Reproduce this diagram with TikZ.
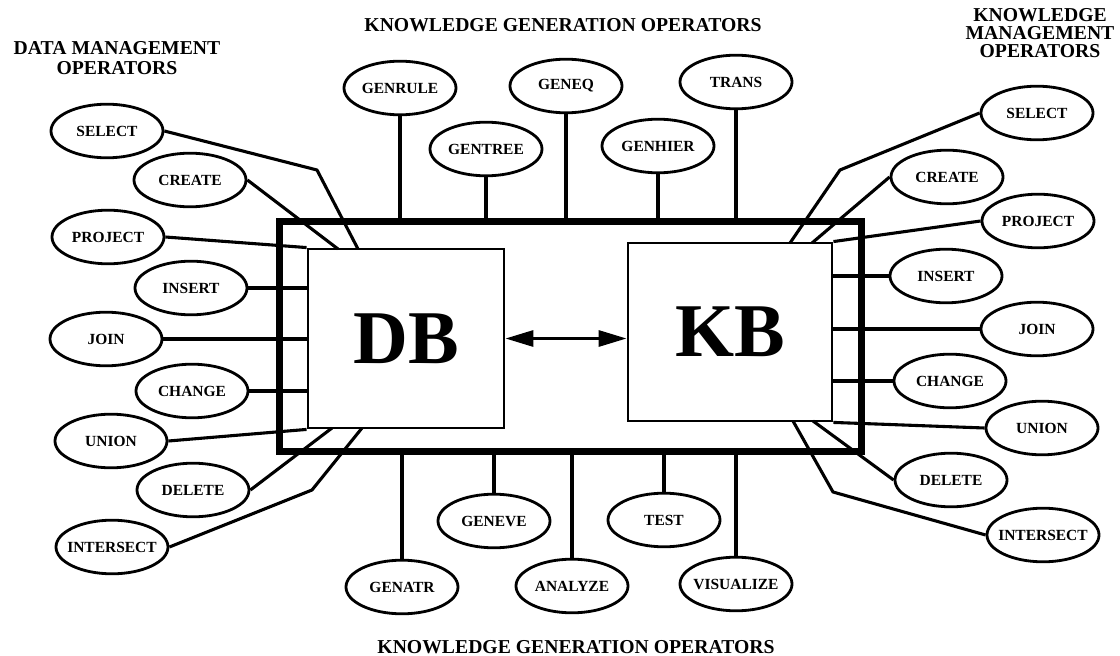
\documentclass[tikz,border=0pt]{standalone}
\usepackage{fontspec}
\setmainfont{Liberation Serif}
\usetikzlibrary{shapes.geometric,arrows.meta}

\tikzset{
  op/.style={ellipse,draw,line width=2pt,minimum width=2.8cm,minimum height=1.34cm,inner xsep=-5pt,inner ysep=0pt,font=\fontsize{11}{12}\selectfont\bfseries},
  base/.style={draw,line width=2pt,inner sep=0pt,font=\fontsize{54}{54}\selectfont\bfseries},
  wire/.style={line width=2.2pt,line join=round},
  heading/.style={align=center,font=\fontsize{14}{14}\selectfont\bfseries}
}

\begin{document}
\begin{tikzpicture}[x=0.025cm,y=-0.025cm]
                \useasboundingbox (0,0) rectangle (1120,656);

                \node[draw,line width=5pt,minimum width=14.525cm,minimum height=5.725cm] (frame) at (570.5,336.5) {};
                \node[base,minimum width=4.9cm,minimum height=4.475cm] (db) at (406,338.5) {DB};
                \node[base,minimum width=5.1cm,minimum height=4.45cm] (kb) at (730,332) {KB};
                \draw[line width=2.2pt,{Triangle[length=0.7cm,width=0.4cm]}-{Triangle[length=0.7cm,width=0.4cm]}] (db.east) -- (db.east -| kb.west);

                \node[heading] (dmtitle) at (117,58) {DATA MANAGEMENT\\OPERATORS};
                \node[heading,font=\fontsize{14}{12.8}\selectfont\bfseries] (kmtitle) at (1040,33) {KNOWLEDGE\\MANAGEMENT\\OPERATORS};
                \node[heading] (kgtop) at (563,25) {KNOWLEDGE GENERATION OPERATORS};
                \node[heading] (kgbot) at (576,647) {KNOWLEDGE GENERATION OPERATORS};

                \node[op] (dsel) at (107,131) {SELECT};
                \node[op] (dcre) at (190,180) {CREATE};
                \node[op] (dproj) at (108,237) {PROJECT};
                \node[op] (dins) at (191,288) {INSERT};
                \node[op] (djoin) at (106,339) {JOIN};
                \node[op] (dchg) at (192,391) {CHANGE};
                \node[op] (duni) at (111,441) {UNION};
                \node[op] (ddel) at (193,490) {DELETE};
                \node[op] (dint) at (112,547) {INTERSECT};

                \node[op] (ksel) at (1037,113) {SELECT};
                \node[op] (kcre) at (947,177) {CREATE};
                \node[op] (kproj) at (1038,221) {PROJECT};
                \node[op] (kins) at (946,276) {INSERT};
                \node[op] (kjoin) at (1037,329) {JOIN};
                \node[op] (kchg) at (950,381) {CHANGE};
                \node[op] (kuni) at (1042,428) {UNION};
                \node[op] (kdel) at (951,480) {DELETE};
                \node[op] (kint) at (1043,535) {INTERSECT};

                \node[op] (grule) at (400,88) {GENRULE};
                \node[op] (gtree) at (486,149) {GENTREE};
                \node[op] (geq) at (566,86) {GENEQ};
                \node[op] (ghier) at (658,146) {GENHIER};
                \node[op] (trans) at (736,82) {TRANS};

                \node[op] (gatr) at (402,587) {GENATR};
                \node[op] (geve) at (494,521) {GENEVE};
                \node[op] (anlz) at (572,586) {ANALYZE};
                \node[op] (test) at (664,520) {TEST};
                \node[op] (vis) at (736,584) {VISUALIZE};

                \coordinate (dselbend) at (317,170);
                \coordinate (dselend) at (358,249);
                \coordinate (dcreend) at (338,249);
                \coordinate (ddelend) at (332,428);
                \coordinate (dintbend) at (312,490);
                \coordinate (dintend) at (362,428);
                \coordinate (kselbend) at (840,170);
                \coordinate (kselend) at (790,243);
                \coordinate (kcreend) at (812,243);
                \coordinate (kdelend) at (813,421);
                \coordinate (kintbend) at (833,492);
                \coordinate (kintend) at (793,421);

                \draw[wire] (dsel.east) -- (dselbend) -- (dselend);
                \draw[wire] (dcre.east) -- (dcreend);
                \draw[wire] (dproj.east) -- (db.north west);
                \draw[wire] (dins.east) -- (dins.east -| db.west);
                \draw[wire] (djoin.east) -- (djoin.east -| db.west);
                \draw[wire] (dchg.east) -- (dchg.east -| db.west);
                \draw[wire] (duni.east) -- (db.south west);
                \draw[wire] (ddel.east) -- (ddelend);
                \draw[wire] (dint.east) -- (dintbend) -- (dintend);

                \draw[wire] (ksel.west) -- (kselbend) -- (kselend);
                \draw[wire] (kcre.west) -- (kcreend);
                \draw[wire] (kproj.west) -- (kb.north east);
                \draw[wire] (kins.west) -- (kins.west -| kb.east);
                \draw[wire] (kjoin.west) -- (kjoin.west -| kb.east);
                \draw[wire] (kchg.west) -- (kchg.west -| kb.east);
                \draw[wire] (kuni.west) -- (kb.south east);
                \draw[wire] (kdel.west) -- (kdelend);
                \draw[wire] (kint.west) -- (kintbend) -- (kintend);

                \draw[wire] (grule.south) -- (grule.south |- frame.north);
                \draw[wire] (gtree.south) -- (gtree.south |- frame.north);
                \draw[wire] (geq.south) -- (geq.south |- frame.north);
                \draw[wire] (ghier.south) -- (ghier.south |- frame.north);
                \draw[wire] (trans.south) -- (trans.south |- frame.north);

                \draw[wire] (frame.south -| gatr.north) -- (gatr.north);
                \draw[wire] (frame.south -| geve.north) -- (geve.north);
                \draw[wire] (frame.south -| anlz.north) -- (anlz.north);
                \draw[wire] (frame.south -| test.north) -- (test.north);
                \draw[wire] (frame.south -| vis.north) -- (vis.north);
\end{tikzpicture}
\end{document}
